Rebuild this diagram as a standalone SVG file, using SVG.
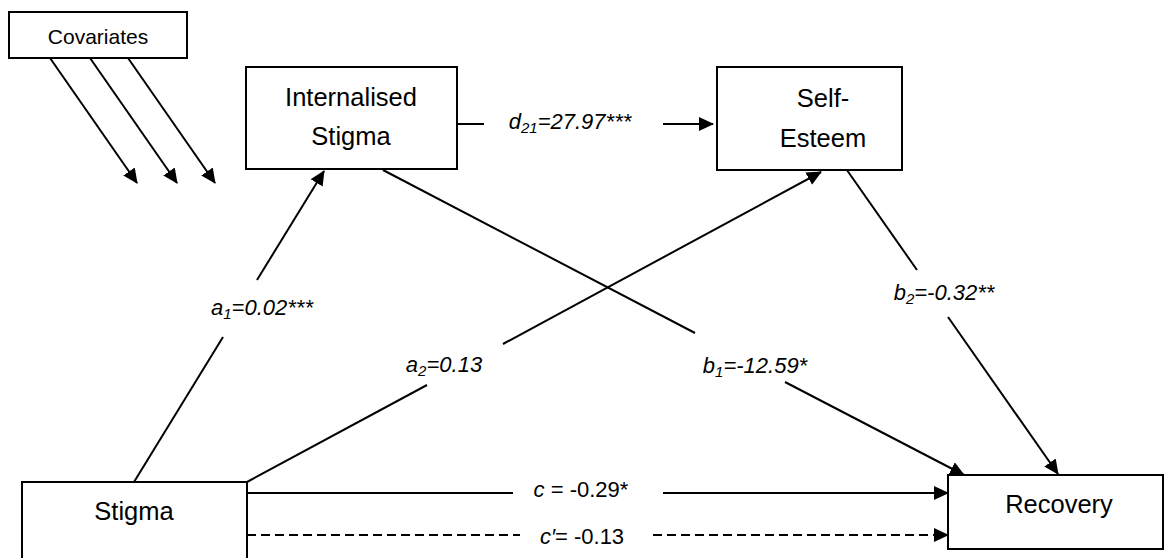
<svg xmlns="http://www.w3.org/2000/svg" width="1165" height="558" viewBox="0 0 1165 558">
<style>
  .box { fill: #fff; stroke: #000; stroke-width: 2; }
  .node { font-family: "Liberation Sans", Arial, sans-serif; font-size: 25.5px; fill: #000; text-anchor: middle; }
  .small { font-size: 21px; }
  .lab { font-family: "Liberation Sans", Arial, sans-serif; font-size: 22px; fill: #000; text-anchor: middle; }
  .it { font-style: italic; }
  .ln { fill: none; stroke: #000; stroke-width: 2; }
  .dash { stroke-dasharray: 9 5; }
</style>
<defs>
  <marker id="ah" markerUnits="userSpaceOnUse" markerWidth="16" markerHeight="14" refX="14" refY="7" orient="auto">
    <path d="M0,0 L15,7 L0,14 z" fill="#000"/>
  </marker>
</defs>
<rect width="1165" height="558" fill="#fff"/>

<g id="connectors">
  <path class="ln" d="M50,58 L137,183" marker-end="url(#ah)"/>
  <path class="ln" d="M90,58 L177,183" marker-end="url(#ah)"/>
  <path class="ln" d="M128,58 L215,183" marker-end="url(#ah)"/>

  <path class="ln" d="M134,482 L223,337"/>
  <path class="ln" d="M257,280 L324,171" marker-end="url(#ah)"/>
  <text class="lab it" x="262" y="315">a<tspan font-size="15" dy="4">1</tspan><tspan dy="-4">=0.02***</tspan></text>

  <path class="ln" d="M247,482 L427,385"/>
  <path class="ln" d="M503,344 L821,172" marker-end="url(#ah)"/>
  <text class="lab it" x="444" y="372">a<tspan font-size="15" dy="4">2</tspan><tspan dy="-4">=0.13</tspan></text>

  <path class="ln" d="M383,170 L695,333"/>
  <path class="ln" d="M785,382 L964,475" marker-end="url(#ah)"/>
  <text class="lab it" x="755" y="373">b<tspan font-size="15" dy="4">1</tspan><tspan dy="-4">=-12.59*</tspan></text>

  <path class="ln" d="M842,163 L917,270"/>
  <path class="ln" d="M948,317 L1058,474" marker-end="url(#ah)"/>
  <text class="lab it" x="944" y="300">b<tspan font-size="15" dy="4">2</tspan><tspan dy="-4">=-0.32**</tspan></text>

  <path class="ln" d="M457,124 L484,124"/>
  <path class="ln" d="M663,124 L713,124" marker-end="url(#ah)"/>
  <text class="lab it" x="570" y="129">d<tspan font-size="15" dy="4">21</tspan><tspan dy="-4">=27.97***</tspan></text>

  <path class="ln" d="M247,493 L513,493"/>
  <path class="ln" d="M663,493 L948,493" marker-end="url(#ah)"/>
  <text class="lab" x="581" y="497"><tspan class="it">c</tspan> = -0.29*</text>

  <path class="ln dash" d="M247,535 L520,535"/>
  <path class="ln dash" d="M653,535 L948,535" marker-end="url(#ah)"/>
  <text class="lab" x="582" y="544"><tspan class="it">c′</tspan>= -0.13</text>
</g>

<g id="covariates">
  <rect class="box" x="9" y="12" width="178" height="46"/>
  <text class="node small" x="98" y="44">Covariates</text>
</g>
<g id="internalised-stigma">
  <rect class="box" x="246" y="67" width="211" height="102"/>
  <text class="node" x="351" y="106">Internalised</text>
  <text class="node" x="351" y="145">Stigma</text>
</g>
<g id="self-esteem">
  <rect class="box" x="717" y="67" width="185" height="103"/>
  <text class="node" x="823" y="107">Self-</text>
  <text class="node" x="823" y="147">Esteem</text>
</g>
<g id="stigma">
  <rect class="box" x="22" y="482" width="225" height="90"/>
  <text class="node" x="134" y="520">Stigma</text>
</g>
<g id="recovery">
  <rect class="box" x="948" y="475" width="215" height="74"/>
  <text class="node" x="1059" y="513">Recovery</text>
</g>
</svg>
